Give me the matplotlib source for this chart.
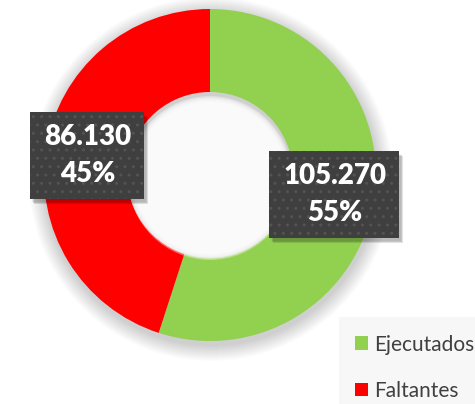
import matplotlib.pyplot as plt
from matplotlib.patches import Rectangle, Circle

# data
labels = ["Ejecutados", "Faltantes"]
values = [105270, 86130]
colors = ["#92D050", "#FF0000"]

W, H = 475, 404

plt.rcParams['font.family'] = ['Lato', 'DejaVu Sans']
plt.rcParams['hatch.linewidth'] = 1.0

fig = plt.figure(figsize=(W / 100, H / 100), dpi=100)
fig.patch.set_facecolor("white")
ax = fig.add_axes([0, 0, 1, 1])

cx, cy, R = 210, H - 175, 166

# soft shadow around the ring
for i in range(16):
    ax.add_patch(Circle((cx + 1, cy - 4), R + 16 - i, color="#000000",
                        alpha=0.013, lw=0, zorder=0))

wedges, _ = ax.pie(values, colors=colors, startangle=90, counterclock=False,
                   radius=R, center=(cx, cy),
                   wedgeprops=dict(width=R * 0.5, linewidth=0))

# inner shadow of the hole
for i in range(6):
    ax.add_patch(Circle((cx, cy - 3), R * 0.5 - 1 - i * 1.2, color="white",
                        alpha=0.35, lw=0, zorder=3))

# value labels
total = sum(values)
boxes = [(269, H - 238, 130, 87), (30, H - 199, 114, 87)]
for (x0, y0, bw, bh), v in zip(boxes, values):
    for k in range(5):
        ax.add_patch(Rectangle((x0 + 2 + k * 0.6, y0 - 3 - k * 0.6), bw, bh,
                               color="black", alpha=0.06, lw=0, zorder=4))
    ax.add_patch(Rectangle((x0, y0), bw, bh, facecolor="#3f3f3f",
                           edgecolor="#535353", hatch="..", lw=0, zorder=5))
    txt = f"{v:,}".replace(",", ".") + f"\n{round(v / total * 100)}%"
    ax.text(x0 + bw / 2 + 1, y0 + bh / 2, txt, ha="center", va="center",
            color="white", fontsize=20, fontweight="heavy", linespacing=1.55,
            zorder=6)

# legend area
ax.add_patch(Rectangle((339, 0), W - 339, H - 317, color="#f7f7f7", lw=0,
                       zorder=1))
leg = ax.legend(wedges, labels, loc="upper left",
                bbox_to_anchor=(336 / W, (H - 316) / H), frameon=False,
                fontsize=15, handlelength=0.65, handleheight=0.65,
                handletextpad=0.3, labelspacing=1.25, labelcolor="#404040")

ax.set_xlim(0, W)
ax.set_ylim(0, H)
ax.set_aspect("equal")
ax.axis("off")

fig.savefig("out.png", dpi=100)
